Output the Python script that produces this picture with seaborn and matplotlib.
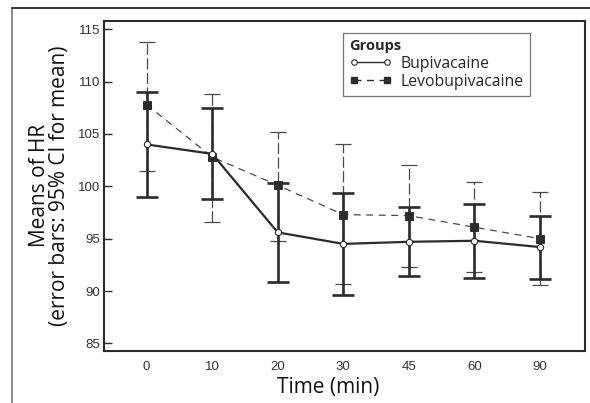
import numpy as np
import pandas as pd
import matplotlib
matplotlib.use("Agg")
import matplotlib.pyplot as plt
from matplotlib.lines import Line2D
import seaborn as sns

# ---- data ----
times = ["0", "10", "20", "30", "45", "60", "90"]
groups = ["Bupivacaine", "Levobupivacaine"]
bup_mean = [104.0, 103.1, 95.6, 94.5, 94.7, 94.8, 94.2]
bup_lo = [99.0, 98.8, 90.9, 89.6, 91.4, 91.2, 91.1]
bup_hi = [109.0, 107.5, 100.3, 99.4, 98.0, 98.3, 97.2]
levo_mean = [107.8, 102.8, 100.1, 97.3, 97.2, 96.1, 95.0]
levo_lo = [101.5, 96.6, 94.8, 90.7, 92.3, 91.8, 90.6]
levo_hi = [113.8, 108.8, 105.2, 104.0, 102.0, 100.4, 99.5]
yticks = [85, 90, 95, 100, 105, 110, 115]

df = pd.DataFrame({
    "time": times * 2,
    "group": [groups[0]] * len(times) + [groups[1]] * len(times),
    "mean": bup_mean + levo_mean,
    "lo": bup_lo + levo_lo,
    "hi": bup_hi + levo_hi,
})

sns.set_style("white")
plt.rcParams["lines.scale_dashes"] = False
plt.rcParams["font.family"] = ["Open Sans", "DejaVu Sans"]

W, H = 590, 403
AX_L, AX_R, AX_T, AX_B = 104.3, 584.5, 20.7, 351.0
fig = plt.figure(figsize=(W / 100, H / 100), dpi=100)
ax = fig.add_axes([AX_L / W, 1 - AX_B / H, (AX_R - AX_L) / W, (AX_B - AX_T) / H])

dark = "#2b2b2b"
mid = "#4a4a4a"

# error bars
xpos = np.arange(len(times))
b = df[df.group == groups[0]]
l = df[df.group == groups[1]]
eb_l = ax.errorbar(xpos, l["mean"], yerr=[l["mean"] - l["lo"], l["hi"] - l["mean"]],
                   fmt="none", ecolor=mid, elinewidth=0.9, capsize=6, capthick=0.9, zorder=2)
eb_l[2][0].set_linestyle((0, (8, 2.5)))
ax.errorbar(xpos, b["mean"], yerr=[b["mean"] - b["lo"], b["hi"] - b["mean"]],
            fmt="none", ecolor=dark, elinewidth=1.9, capsize=8, capthick=1.9, zorder=2)

# mean lines
sns.pointplot(data=l, x="time", y="mean", order=times, color=mid, errorbar=None,
              markers="s", linestyles=(0, (5, 4)), ax=ax, linewidth=0.9,
              markersize=5.5, markerfacecolor=dark, markeredgecolor=dark, zorder=3)
sns.pointplot(data=b, x="time", y="mean", order=times, color=dark, errorbar=None,
              markers="o", linestyles="-", ax=ax, linewidth=1.6,
              markersize=4.5, markerfacecolor="white", markeredgecolor=dark,
              markeredgewidth=0.8, zorder=4)

ax.set_xlim(-0.646, 6.68)
ax.set_ylim(84.27, 115.82)
ax.set_yticks(yticks)
ax.set_yticklabels([str(t) for t in yticks], family="Liberation Sans", fontsize=9.5, color="#333333")
ax.set_xticks(xpos)
ax.set_xticklabels(times, family="Liberation Sans", fontsize=9.5, color="#333333")
ax.tick_params(axis="y", direction="in", length=6, width=1, color=dark, pad=3, left=True)
ax.tick_params(axis="x", length=0, pad=7)

for s in ax.spines.values():
    s.set_visible(True)
    s.set_color(dark)
    s.set_linewidth(1.5)

ax.set_ylabel("Means of HR\n(error bars: 95% CI for mean)", fontsize=15, color="#111111",
              linespacing=0.95)
ax.yaxis.set_label_coords((70 - AX_L) / (AX_R - AX_L), 0.5)
ax.set_xlabel("Time (min)", fontsize=15, color="#111111")
ax.xaxis.set_label_coords((328.5 - AX_L) / (AX_R - AX_L), -(377 - AX_B) / (AX_B - AX_T))

handles = [
    Line2D([], [], color=dark, lw=1.0, marker="o", markersize=4, markerfacecolor="white",
           markeredgecolor=dark, markeredgewidth=0.8),
    Line2D([], [], color=dark, lw=1.0, ls=(0, (5, 4)), marker="s", markersize=4.5,
           markerfacecolor=dark, markeredgecolor=dark),
]
leg = ax.legend(handles, groups, title="Groups", loc="upper left", numpoints=2,
                bbox_to_anchor=((343 - AX_L) / (AX_R - AX_L), 1 - (33 - AX_T) / (AX_B - AX_T)),
                fontsize=11.3, title_fontproperties={"weight": "bold", "size": 10.5, "family": "Open Sans"},
                frameon=True, fancybox=False, handlelength=2.7, handletextpad=0.55,
                labelspacing=0.15, borderpad=0.4, alignment="left", borderaxespad=0)
leg.get_frame().set_edgecolor("#555555")
leg.get_frame().set_linewidth(0.9)

# outer frame lines
fig.add_artist(Line2D([12.3 / W, 12.3 / W], [0, 1 - 8.3 / H], color="#888888", lw=1.4,
                      transform=fig.transFigure))
fig.add_artist(Line2D([12.3 / W, 1], [1 - 8.3 / H, 1 - 8.3 / H], color="#333333", lw=1.4,
                      transform=fig.transFigure))

fig.savefig("out.png", dpi=100)
